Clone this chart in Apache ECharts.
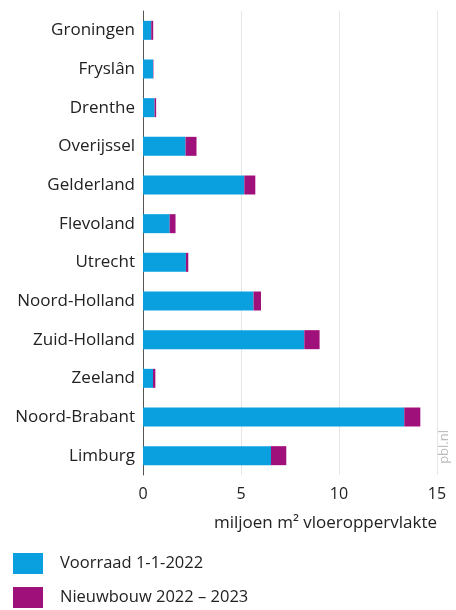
<!DOCTYPE html>
<html><head><meta charset="utf-8">
<script src="https://cdn.jsdelivr.net/npm/echarts@6/dist/echarts.min.js"></script>
<style>html,body{margin:0;padding:0;background:#fff}#c{width:456px;height:610px}</style>
</head><body><div id="c"></div>
<script>
const provinces = ['Groningen','Fryslân','Drenthe','Overijssel','Gelderland','Flevoland','Utrecht','Noord-Holland','Zuid-Holland','Zeeland','Noord-Brabant','Limburg'];
const voorraad = [0.42,0.51,0.59,2.17,5.17,1.36,2.19,5.64,8.23,0.51,13.33,6.53];
const nieuwbouw = [0.10,0.02,0.08,0.56,0.56,0.30,0.12,0.38,0.78,0.12,0.82,0.78];
const xTicks = [0,5,10,15];
const seriesNames = ['Voorraad 1-1-2022','Nieuwbouw 2022 – 2023'];
const axisName = 'miljoen m² vloeroppervlakte';

const font = '"Open Sans", "Noto Sans", sans-serif';
const chart = echarts.init(document.getElementById('c'), null, {renderer:'canvas'});
chart.setOption({
  animation:false,
  textStyle:{fontFamily:font},
  grid:{left:143, right:19, top:11, bottom:135, containLabel:false},
  xAxis:{type:'value', min:xTicks[0], max:xTicks[xTicks.length-1], interval:5,
    axisLine:{show:false}, axisTick:{show:false},
    axisLabel:{color:'#222', fontSize:16, margin:11, fontFamily:font},
    splitLine:{show:true, lineStyle:{color:'#e6e6e6', width:1}},
    name:axisName, nameLocation:'end', nameGap:0,
    nameTextStyle:{color:'#222', fontSize:17, align:'right', verticalAlign:'top', padding:[40,0,0,0], fontFamily:font}
  },
  yAxis:{type:'category', data:provinces, inverse:true,
    axisLine:{show:true, lineStyle:{color:'#555', width:1}}, axisTick:{show:false},
    axisLabel:{color:'#222', fontSize:17, margin:8, fontFamily:font}
  },
  legend:{orient:'vertical', left:13, top:553, padding:0, itemWidth:30, itemHeight:21, itemGap:13,
    icon:'rect', textStyle:{color:'#222', fontSize:16.5, fontFamily:font, padding:[0,0,0,12]},
    data:seriesNames},
  series:[
    {name:seriesNames[0], type:'bar', stack:'t', data:voorraad, barWidth:19, itemStyle:{color:'#0aa0e0'}},
    {name:seriesNames[1], type:'bar', stack:'t', data:nieuwbouw, barWidth:19, itemStyle:{color:'#a0107a'}}
  ],
  graphic:[{type:'text', left:438, top:430, rotation:Math.PI/2, style:{text:'pbl.nl', fill:'#bbb', font:'13px '+font}}]
});
</script></body></html>
